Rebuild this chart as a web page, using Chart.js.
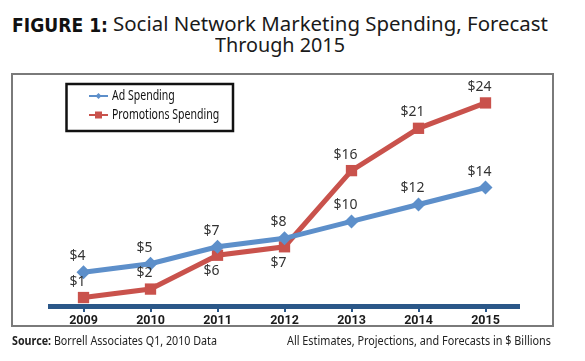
<!DOCTYPE html>
<html>
<head>
<meta charset="utf-8">
<script src="https://cdn.jsdelivr.net/npm/chart.js@4"></script>
<style>
  html, body { margin: 0; padding: 0; background: #fff; }
  body { width: 585px; height: 361px; position: relative; overflow: hidden; font-family: "Noto Sans", sans-serif; color: #1a1a1a; }
  .txt { position: absolute; white-space: nowrap; transform-origin: 0 0; }
  #fig { font-family: "DejaVu Sans", sans-serif; font-weight: bold; font-size: 20px; line-height: 20px; top: 15px; color: #111; }
  #t1, #t2 { font-size: 20px; line-height: 20px; }
  #t1 { top: 14px; }
  #t2 { top: 35px; }
  #src, #note { font-size: 12.5px; line-height: 12.5px; top: 335px; color: #222; }
  #frame { position: absolute; left: 11px; top: 73px; width: 539px; height: 250px; border: 2px solid #7a7a7a; }
  #chart { position: absolute; left: 0; top: 0; }
</style>
</head>
<body>
<div class="txt" id="fig">FIGURE 1:</div>
<div class="txt" id="t1">Social Network Marketing Spending, Forecast</div>
<div class="txt" id="t2">Through 2015</div>
<div id="frame"></div>
<canvas id="chart" width="585" height="361"></canvas>
<div class="txt" id="src"><b>Source:</b> Borrell Associates Q1, 2010 Data</div>
<div class="txt" id="note">All Estimates, Projections, and Forecasts in $ Billions</div>
<script>
const years = ["2009", "2010", "2011", "2012", "2013", "2014", "2015"];
const adSpending = [4, 5, 7, 8, 10, 12, 14];
const promoSpending = [1, 2, 6, 7, 16, 21, 24];

const blue = "#5d8fca";
const red = "#c9524c";
const axisBlue = "#2b5788";

// squeeze text to the narrow widths of the original layout
function fit(id, left, width) {
  const el = document.getElementById(id);
  el.style.left = left + "px";
  const w = el.getBoundingClientRect().width;
  el.style.transform = "scaleX(" + (width / w) + ")";
}
fit("fig", 12, 96);
fit("t1", 113, 435);
fit("t2", 215, 130);
fit("src", 12, 205);
fit("note", 287, 264);

// value labels ($x) next to each point
const valueLabels = {
  id: "valueLabels",
  afterDatasetsDraw(chart) {
    const ctx = chart.ctx;
    ctx.save();
    ctx.font = "14px 'Noto Sans'";
    ctx.fillStyle = "#333";
    ctx.textAlign = "center";
    ctx.textBaseline = "middle";
    chart.data.datasets.forEach((ds, i) => {
      const meta = chart.getDatasetMeta(i);
      meta.data.forEach((pt, j) => {
        const below = (ds.labelBelow || []).includes(j);
        ctx.fillText("$" + ds.data[j], pt.x - 6, below ? pt.y + 16 : pt.y - 16);
      });
    });
    ctx.restore();
  }
};

// boxed legend in the top-left of the plot
const boxLegend = {
  id: "boxLegend",
  afterDraw(chart) {
    const ctx = chart.ctx;
    ctx.save();
    ctx.strokeStyle = "#111";
    ctx.lineWidth = 2.5;
    ctx.strokeRect(66.5, 84, 166.5, 47);
    chart.data.datasets.forEach((ds, i) => {
      const y = 96 + i * 19;
      ctx.strokeStyle = ds.borderColor;
      ctx.lineWidth = 2;
      ctx.beginPath();
      ctx.moveTo(89, y);
      ctx.lineTo(108, y);
      ctx.stroke();
      ctx.fillStyle = ds.borderColor;
      if (ds.pointStyle === "rect") {
        ctx.fillRect(95, y - 3.5, 7, 7);
      } else {
        ctx.beginPath();
        ctx.moveTo(98.5, y - 3);
        ctx.lineTo(101.5, y);
        ctx.lineTo(98.5, y + 3);
        ctx.lineTo(95.5, y);
        ctx.closePath();
        ctx.fill();
      }
      ctx.save();
      ctx.translate(112, y + 4);
      ctx.scale(0.78, 1);
      ctx.font = "13.5px 'Noto Sans'";
      ctx.fillStyle = "#111";
      ctx.textBaseline = "alphabetic";
      ctx.fillText(ds.label, 0, 0);
      ctx.restore();
    });
    ctx.restore();
  }
};

new Chart(document.getElementById("chart"), {
  type: "line",
  data: {
    labels: years,
    datasets: [
      {
        label: "Ad Spending",
        data: adSpending,
        borderColor: blue,
        backgroundColor: blue,
        borderWidth: 5,
        pointStyle: "rectRot",
        pointRadius: 7,
        pointBorderWidth: 0,
        labelBelow: []
      },
      {
        label: "Promotions Spending",
        data: promoSpending,
        borderColor: red,
        backgroundColor: red,
        borderWidth: 5,
        pointStyle: "rect",
        pointRadius: 8,
        pointBorderWidth: 0,
        labelBelow: [2, 3]
      }
    ]
  },
  options: {
    responsive: false,
    animation: false,
    layout: { padding: { left: 50, right: 66, top: 86, bottom: 32 } },
    plugins: {
      legend: { display: false },
      tooltip: { enabled: false }
    },
    scales: {
      x: {
        offset: true,
        border: { display: true, color: axisBlue, width: 5 },
        grid: { drawOnChartArea: false, drawTicks: true, tickLength: 6, color: axisBlue, lineWidth: 2 },
        ticks: {
          color: "#1a1a1a",
          padding: 1,
          font: { family: "Roboto", size: 12.5, weight: "bold" }
        }
      },
      y: {
        display: false,
        min: 0,
        max: 26
      }
    }
  },
  plugins: [valueLabels, boxLegend]
});
</script>
</body>
</html>
